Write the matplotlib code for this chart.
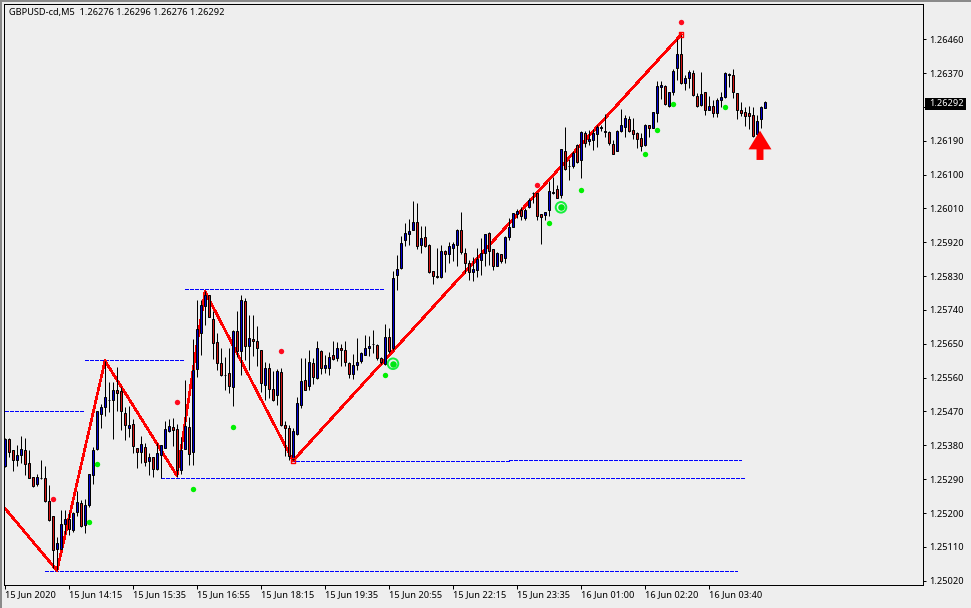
import matplotlib
matplotlib.use('Agg')
import matplotlib.pyplot as plt
from matplotlib.patches import Rectangle

# GBPUSD-cd M5 bars
opens = [
    1.25325,1.25396,1.25367,1.25340,1.25355,1.25367,1.25332,1.25295,1.25276,1.25292,
    1.25292,1.25231,1.25191,1.25103,1.25105,1.25172,1.25183,1.25154,1.25202,1.25226,
    1.25167,1.25220,1.25302,1.25370,1.25464,1.25481,1.25500,1.25500,1.25526,1.25524,
    1.25465,1.25427,1.25436,1.25372,1.25363,1.25375,1.25339,1.25349,1.25318,1.25355,
    1.25374,1.25419,1.25428,1.25423,1.25315,1.25371,1.25429,1.25363,1.25582,1.25678,
    1.25751,1.25779,1.25715,1.25654,1.25598,1.25568,1.25572,1.25536,1.25685,1.25630,
    1.25765,1.25643,1.25664,1.25657,1.25633,1.25541,1.25586,1.25530,1.25513,1.25576,
    1.25434,1.25427,1.25344,1.25411,1.25488,1.25554,1.25537,1.25599,1.25559,1.25631,
    1.25585,1.25585,1.25620,1.25611,1.25639,1.25633,1.25599,1.25569,1.25593,1.25603,
    1.25621,1.25638,1.25649,1.25647,1.25612,1.25597,1.25668,1.25638,1.25832,1.25852,
    1.25925,1.25941,1.25954,1.25974,1.25912,1.25934,1.25913,1.25843,1.25830,1.25827,
    1.25897,1.25888,1.25904,1.25912,1.25952,1.25891,1.25866,1.25840,1.25845,1.25872,
    1.25891,1.25945,1.25903,1.25858,1.25888,1.25877,1.25935,1.25962,1.25996,1.26006,
    1.25985,1.26013,1.26050,1.26050,1.25995,1.25993,1.26005,1.26052,1.26062,1.26046,
    1.26164,1.26123,1.26122,1.26178,1.26139,1.26210,1.26190,1.26191,1.26207,1.26225,
    1.26214,1.26213,1.26181,1.26164,1.26215,1.26227,1.26248,1.26219,1.26210,1.26197,
    1.26178,1.26232,1.26224,1.26265,1.26332,1.26337,1.26283,1.26320,1.26384,1.26421,
    1.26345,1.26357,1.26371,1.26310,1.26286,1.26319,1.26272,1.26282,1.26265,1.26299,
    1.26307,1.26366,1.26365,1.26317,1.26271,1.26266,1.26263,1.26258,1.26208,1.26247,
    1.26276]
highs = [
    1.25399,1.25399,1.25367,1.25381,1.25405,1.25399,1.25367,1.25297,1.25303,1.25340,
    1.25324,1.25275,1.25191,1.25136,1.25208,1.25208,1.25202,1.25202,1.25259,1.25235,
    1.25237,1.25303,1.25375,1.25471,1.25490,1.25605,1.25548,1.25548,1.25588,1.25536,
    1.25483,1.25485,1.25449,1.25372,1.25405,1.25385,1.25359,1.25350,1.25386,1.25380,
    1.25446,1.25449,1.25453,1.25437,1.25403,1.25554,1.25456,1.25662,1.25767,1.25767,
    1.25790,1.25780,1.25736,1.25678,1.25638,1.25614,1.25638,1.25687,1.25738,1.25780,
    1.25772,1.25727,1.25727,1.25698,1.25634,1.25602,1.25599,1.25577,1.25584,1.25586,
    1.25446,1.25435,1.25426,1.25508,1.25612,1.25612,1.25634,1.25612,1.25658,1.25634,
    1.25621,1.25627,1.25658,1.25654,1.25649,1.25658,1.25601,1.25624,1.25665,1.25627,
    1.25674,1.25670,1.25686,1.25650,1.25614,1.25703,1.25692,1.25843,1.25887,1.25936,
    1.25971,1.25982,1.26031,1.26025,1.25964,1.25964,1.25916,1.25843,1.25904,1.25913,
    1.25900,1.25922,1.25922,1.25955,1.26001,1.25904,1.25873,1.25882,1.25904,1.25931,
    1.25942,1.25947,1.25903,1.25893,1.25888,1.25937,1.25984,1.25999,1.26009,1.26014,
    1.26011,1.26037,1.26055,1.26052,1.25995,1.26000,1.26082,1.26095,1.26073,1.26167,
    1.26226,1.26141,1.26164,1.26181,1.26217,1.26215,1.26219,1.26221,1.26232,1.26232,
    1.26262,1.26215,1.26193,1.26219,1.26275,1.26259,1.26255,1.26250,1.26213,1.26210,
    1.26235,1.26232,1.26266,1.26348,1.26350,1.26339,1.26319,1.26381,1.26460,1.26472,
    1.26365,1.26377,1.26377,1.26317,1.26374,1.26319,1.26308,1.26299,1.26303,1.26321,
    1.26373,1.26370,1.26381,1.26317,1.26294,1.26279,1.26283,1.26281,1.26259,1.26283,
    1.26296]
lows = [
    1.25323,1.25350,1.25313,1.25325,1.25334,1.25300,1.25292,1.25268,1.25273,1.25291,
    1.25230,1.25180,1.25053,1.25049,1.25104,1.25144,1.25142,1.25149,1.25193,1.25162,
    1.25148,1.25217,1.25278,1.25368,1.25427,1.25459,1.25469,1.25398,1.25472,1.25421,
    1.25394,1.25401,1.25359,1.25320,1.25332,1.25325,1.25300,1.25297,1.25315,1.25292,
    1.25374,1.25416,1.25377,1.25297,1.25304,1.25371,1.25328,1.25328,1.25563,1.25620,
    1.25699,1.25722,1.25610,1.25581,1.25565,1.25527,1.25519,1.25485,1.25614,1.25568,
    1.25608,1.25581,1.25617,1.25590,1.25521,1.25500,1.25506,1.25497,1.25488,1.25432,
    1.25351,1.25342,1.25342,1.25408,1.25478,1.25526,1.25528,1.25543,1.25557,1.25570,
    1.25572,1.25568,1.25608,1.25603,1.25590,1.25590,1.25558,1.25557,1.25581,1.25599,
    1.25619,1.25617,1.25626,1.25608,1.25597,1.25594,1.25626,1.25634,1.25792,1.25850,
    1.25909,1.25914,1.25952,1.25902,1.25892,1.25907,1.25838,1.25810,1.25826,1.25826,
    1.25840,1.25866,1.25871,1.25858,1.25888,1.25838,1.25820,1.25818,1.25829,1.25833,
    1.25857,1.25860,1.25847,1.25857,1.25865,1.25865,1.25927,1.25960,1.25984,1.25980,
    1.25978,1.26011,1.26024,1.25980,1.25916,1.25980,1.25990,1.26048,1.26037,1.26037,
    1.26113,1.26086,1.26117,1.26132,1.26092,1.26173,1.26179,1.26166,1.26173,1.26217,
    1.26201,1.26179,1.26154,1.26162,1.26213,1.26201,1.26213,1.26194,1.26170,1.26164,
    1.26177,1.26201,1.26223,1.26241,1.26302,1.26285,1.26281,1.26313,1.26352,1.26342,
    1.26324,1.26330,1.26308,1.26281,1.26283,1.26259,1.26271,1.26253,1.26253,1.26281,
    1.26305,1.26333,1.26305,1.26249,1.26257,1.26230,1.26221,1.26201,1.26201,1.26225,
    1.26276]
closes = [
    1.25397,1.25363,1.25340,1.25354,1.25370,1.25331,1.25294,1.25273,1.25297,1.25293,
    1.25231,1.25182,1.25101,1.25120,1.25170,1.25183,1.25158,1.25199,1.25229,1.25165,
    1.25221,1.25303,1.25367,1.25471,1.25481,1.25508,1.25501,1.25526,1.25520,1.25471,
    1.25433,1.25433,1.25378,1.25363,1.25383,1.25337,1.25348,1.25318,1.25359,1.25380,
    1.25423,1.25431,1.25422,1.25315,1.25367,1.25432,1.25358,1.25580,1.25689,1.25753,
    1.25779,1.25722,1.25653,1.25598,1.25568,1.25567,1.25538,1.25684,1.25632,1.25767,
    1.25643,1.25665,1.25657,1.25638,1.25545,1.25586,1.25530,1.25501,1.25578,1.25433,
    1.25425,1.25351,1.25418,1.25493,1.25552,1.25528,1.25602,1.25561,1.25639,1.25585,
    1.25594,1.25615,1.25609,1.25639,1.25633,1.25602,1.25570,1.25594,1.25602,1.25626,
    1.25639,1.25644,1.25650,1.25613,1.25601,1.25668,1.25630,1.25825,1.25849,1.25918,
    1.25945,1.25950,1.25974,1.25909,1.25931,1.25911,1.25841,1.25830,1.25829,1.25896,
    1.25888,1.25910,1.25915,1.25953,1.25895,1.25864,1.25840,1.25849,1.25875,1.25891,
    1.25942,1.25898,1.25858,1.25891,1.25869,1.25935,1.25962,1.25998,1.26003,1.25991,
    1.26006,1.26032,1.26051,1.25991,1.25986,1.26000,1.26056,1.26053,1.26039,1.26167,
    1.26115,1.26124,1.26157,1.26134,1.26213,1.26185,1.26194,1.26210,1.26227,1.26226,
    1.26215,1.26183,1.26156,1.26217,1.26232,1.26250,1.26215,1.26207,1.26196,1.26175,
    1.26232,1.26223,1.26266,1.26335,1.26338,1.26287,1.26319,1.26376,1.26421,1.26343,
    1.26357,1.26373,1.26311,1.26283,1.26314,1.26273,1.26282,1.26265,1.26299,1.26306,
    1.26371,1.26367,1.26319,1.26271,1.26265,1.26257,1.26257,1.26203,1.26243,1.26281,
    1.26292]

# zigzag turning points (bar number, price)
zigzag_bars = [-1, 13, 25, 43, 50, 72, 169]
zigzag_prices = [1.25225, 1.25047, 1.25605, 1.25299, 1.25789, 1.25339, 1.26472]
square_bars = [72, 169]
square_prices = [1.25339, 1.26472]

# support / resistance levels
level_prices = [1.25471, 1.25607, 1.25796, 1.25338, 1.25340, 1.25292, 1.25045]
level_starts = [0, 20, 45, 71.5, 126, 39, 10]
level_ends = [20, 44.75, 95, 126, 184, 185, 183]

red_dot_bars = [12, 43, 69, 133, 169]
red_dot_prices = [1.25237, 1.25495, 1.25631, 1.26072, 1.26506]
green_dot_bars = [23, 21, 47, 57, 95, 136, 144, 160, 163, 167, 180]
green_dot_prices = [1.25330, 1.25175, 1.25263, 1.25428, 1.25567, 1.25971, 1.26059,
                    1.26154, 1.26218, 1.26287, 1.26279]
ring_bars = [97, 139]
ring_prices = [1.25597, 1.26013]

arrow_bar = 188.75
arrow_tip = 1.26217
arrow_tail = 1.26139

y_ticks = [1.25020, 1.25110, 1.25200, 1.25290, 1.25380, 1.25470, 1.25560, 1.25650,
           1.25740, 1.25830, 1.25920, 1.26010, 1.26100, 1.26190, 1.26280, 1.26370, 1.26460]
x_ticks = [0, 16, 32, 48, 64, 80, 96, 112, 128, 144, 160, 176]
x_labels = ['15 Jun 2020', '15 Jun 14:15', '15 Jun 15:35', '15 Jun 16:55', '15 Jun 18:15',
            '15 Jun 19:35', '15 Jun 20:55', '15 Jun 22:15', '15 Jun 23:35', '16 Jun 01:00',
            '16 Jun 02:20', '16 Jun 03:40']
title_text = 'GBPUSD-cd,M5  1.26276 1.26296 1.26276 1.26292'
last_price = closes[-1]

BG = '#eeeeee'
W, H = 971, 608
FS = 6.65
plt.rcParams['font.family'] = ['Noto Sans', 'DejaVu Sans']

fig = plt.figure(figsize=(W / 100, H / 100), dpi=100, facecolor=BG)
ax = fig.add_axes([4.3 / W, 1 - 585.2 / H, (923 - 4.3) / W, (585.2 - 4.3) / H], facecolor=BG)
ax.set_xlim(-0.175, 229.5)
ax.set_ylim(1.25008, 1.26553)

# window edge on the left and top
fig.add_artist(Rectangle((0, 0), 2 / W, 1, transform=fig.transFigure, color='#8a8a8a', lw=0))
fig.add_artist(Rectangle((0, 1 - 1.5 / H), 1, 1.5 / H, transform=fig.transFigure, color='#8a8a8a', lw=0))

for p, a, b in zip(level_prices, level_starts, level_ends):
    ax.plot([a, b], [p, p], color='#0000ff', lw=0.72, dashes=(3, 2), antialiased=False, zorder=1)

ax.plot(zigzag_bars, zigzag_prices, color='#ff0000', lw=1.15, antialiased=False, zorder=2)

bars = range(len(opens))
ax.vlines(bars, lows, highs, color='black', lw=0.72, zorder=3)
up = [c >= o for o, c in zip(opens, closes)]
body_bottom = [min(o, c) for o, c in zip(opens, closes)]
body_height = [abs(c - o) for o, c in zip(opens, closes)]
ax.bar(bars, body_height, bottom=body_bottom, width=0.5,
       color=['#0000d2' if u else '#d21414' for u in up],
       edgecolor='black', linewidth=0.72, zorder=4)

ax.scatter(square_bars, square_prices, marker='s', s=11, facecolors='none', edgecolors='#ff0000',
           linewidths=1.0, zorder=5)
ax.scatter(red_dot_bars, red_dot_prices, s=15, color='#ff0a1e', lw=0, zorder=5)
ax.scatter(green_dot_bars, green_dot_prices, s=15, color='#00f000', lw=0, zorder=5)
ax.scatter(ring_bars, ring_prices, s=58, facecolors='none', edgecolors='#14f03c', linewidths=1.4, zorder=5)
ax.scatter(ring_bars, ring_prices, s=22, color='#00e614', lw=0, zorder=5)

ax.annotate('', xy=(arrow_bar, arrow_tip), xytext=(arrow_bar, arrow_tail),
            arrowprops=dict(width=5, headwidth=16.5, headlength=13.5, color='#ff0000', lw=0), zorder=6)

ax.yaxis.tick_right()
ax.set_yticks(y_ticks)
ax.set_yticklabels(['%.5f' % v for v in y_ticks], fontsize=FS)
ax.set_xticks(x_ticks)
ax.set_xticklabels(x_labels, fontsize=FS, ha='left')
ax.tick_params(axis='y', length=2, width=0.72, pad=2.3, colors='black')
ax.tick_params(axis='x', length=2.8, width=0.72, pad=0.8, colors='black')
for s in ax.spines.values():
    s.set_linewidth(0.72)

ax.text(9 / W, 1 - 12.5 / H, title_text, transform=fig.transFigure,
        fontsize=FS, ha='left', va='center')

# current price tag on the axis
fig.add_artist(Rectangle((925 / W, 1 - 109.5 / H), 41 / W, 11.5 / H, transform=fig.transFigure,
                         color='black', lw=0, zorder=5))
fig.text(929.5 / W, 1 - 103.7 / H, '%.5f' % last_price, color='white', fontsize=FS,
         ha='left', va='center', zorder=6)

fig.savefig('out.png', dpi=100, facecolor=BG)
